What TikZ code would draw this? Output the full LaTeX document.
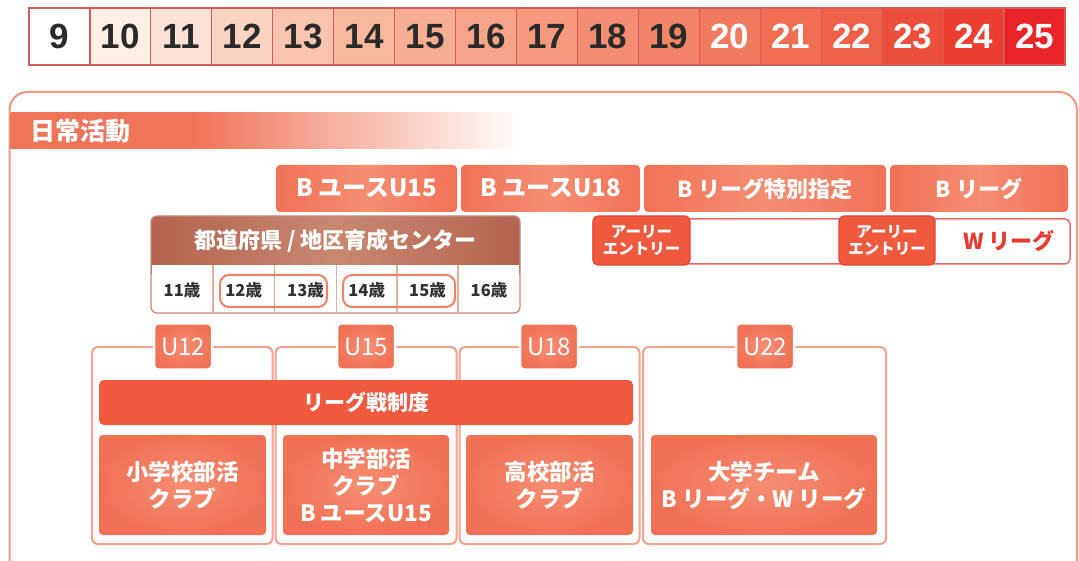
\documentclass[tikz,border=0pt]{standalone}
\usepackage{fontspec}
\setmainfont{Liberation Sans}
\newfontfamily\jp{Noto Sans CJK JP}
\definecolor{c9}{HTML}{FFFFFF}
\definecolor{c10}{HTML}{FDEEE6}
\definecolor{c11}{HTML}{FCE2D6}
\definecolor{c12}{HTML}{FBD3C2}
\definecolor{c13}{HTML}{F9C5B0}
\definecolor{c14}{HTML}{F8B89E}
\definecolor{c15}{HTML}{F7AD92}
\definecolor{c16}{HTML}{F6A488}
\definecolor{c17}{HTML}{F5987C}
\definecolor{c18}{HTML}{F38E72}
\definecolor{c19}{HTML}{F28467}
\definecolor{c20}{HTML}{F07A5E}
\definecolor{c21}{HTML}{EF6E52}
\definecolor{c22}{HTML}{EE6047}
\definecolor{c23}{HTML}{EC503C}
\definecolor{c24}{HTML}{EB3F30}
\definecolor{c25}{HTML}{E82428}
\definecolor{darktxt}{HTML}{2A2A2A}
\definecolor{cellbord}{HTML}{D65A55}
\definecolor{frameC}{HTML}{F4A28E}
\definecolor{mainframe}{HTML}{F29884}
\definecolor{hdr}{HTML}{F07458}
\definecolor{tbA}{HTML}{F07256}
\definecolor{tbB}{HTML}{F58E72}
\definecolor{eered}{HTML}{EF5A3E}
\definecolor{eebord}{HTML}{E8413A}
\definecolor{eerow}{HTML}{EE6A66}
\definecolor{wtxt}{HTML}{E63A30}
\definecolor{brA}{HTML}{B4634F}
\definecolor{brB}{HTML}{C98870}
\definecolor{brbord}{HTML}{C98A78}
\definecolor{brdiv}{HTML}{DDB0A2}
\definecolor{oval}{HTML}{F08262}
\definecolor{league}{HTML}{EF5A3E}
\definecolor{agetxt}{HTML}{333333}
\pgfdeclarehorizontalshading{hdrshade}{100bp}{color(0bp)=(hdr); color(25bp)=(hdr); color(43bp)=(hdr); color(75bp)=(white); color(100bp)=(white)}
\tikzset{
  agecell/.style={draw=cellbord, line width=1.2pt, minimum width=60.94pt, minimum height=57pt,
    inner sep=0pt, font=\bfseries\fontsize{35}{35}\selectfont},
  topbox/.style={rounded corners=4pt, left color=tbA, right color=tbA, middle color=tbB,
    text=white, inner sep=0pt, minimum height=47pt, font=\jp\bfseries\fontsize{22}{22}\selectfont},
  eebox/.style={rounded corners=5pt, fill=eered, draw=eebord, line width=1.2pt, text=white,
    inner sep=0pt, minimum width=97pt, minimum height=49pt, align=center,
    font=\jp\bfseries\fontsize{15.5}{17}\selectfont},
  agelbl/.style={text=agetxt, inner sep=0pt, font=\jp\bfseries\fontsize{16.5}{16.5}\selectfont},
  ovalbox/.style={draw=oval, line width=2pt, rounded corners=9pt},
  uframe/.style={draw=frameC, line width=2pt, rounded corners=6pt, inner sep=0pt},
  utab/.style={rounded corners=4pt, inner color=tbB, outer color=tbA, draw=white, line width=2.5pt,
    text=white, inner sep=0pt, minimum width=58pt, minimum height=46pt,
    font=\jp\fontsize{24}{24}\selectfont},
  innerbox/.style={rounded corners=4pt, inner color=tbB, outer color=tbA, text=white,
    inner sep=0pt, minimum height=100pt, align=center,
    font=\jp\bfseries\fontsize{22.5}{27}\selectfont},
}
\begin{document}
\begin{tikzpicture}[x=1pt,y=-1pt]
\useasboundingbox (0,0) rectangle (1079,561);
\clip (0,0) rectangle (1079,561);
\fill[white] (0,0) rectangle (1079,561);
% age bar
\foreach \a/\t in {9/darktxt,10/darktxt,11/darktxt,12/darktxt,13/darktxt,14/darktxt,15/darktxt,16/darktxt,17/darktxt,18/darktxt,19/darktxt,20/white,21/white,22/white,23/white,24/white,25/white}{
  \pgfmathsetmacro{\cx}{29+60.94*(\a-9)+30.47}
  \node[agecell, fill=c\a, text=\t] (age\a) at (\cx,36.5) {\a};
}
% main frame
\draw[mainframe, line width=2pt, rounded corners=18pt] (9.5,92) rectangle (1077,600);
\shade[shading=hdrshade] (10.5,113) rectangle (522,149);
\node[anchor=west, text=white, inner sep=0pt, font=\jp\bfseries\fontsize{25}{25}\selectfont] (daily) at (30,131) {日常活動};
% top boxes
\node[topbox, minimum width=181pt, font=\jp\bfseries\fontsize{24}{24}\selectfont] (bu15) at (366.5,188.5) {B ユースU15};
\node[topbox, minimum width=179pt, font=\jp\bfseries\fontsize{24}{24}\selectfont] (bu18) at (550.5,188.5) {B ユースU18};
\node[topbox, minimum width=242pt] (bsp) at (765,188.5) {B リーグ特別指定};
\node[topbox, minimum width=178pt] (bl) at (979,188.5) {B リーグ};
% early entry row
\node[draw=eerow, line width=1.5pt, fill=white, rounded corners=5pt, minimum width=477pt, minimum height=45pt, inner sep=0pt] (eerow) at (831.5,241.5) {};
\node[eebox] (ee1) at (641.5,240.5) {アーリー\\エントリー};
\node[eebox, minimum width=96pt] (ee2) at (887,240.5) {アーリー\\エントリー};
\node[text=wtxt, inner sep=0pt, font=\jp\bfseries\fontsize{22}{22}\selectfont] (wl) at (1009,241) {W リーグ};
% prefecture box
\fill[white, rounded corners=6pt] (151,216) rectangle (520,313);
\shade[left color=brA, right color=brA, middle color=brB, rounded corners=6pt] (151,216) rectangle (520,278);
\fill[white] (151.8,265) rectangle (519.2,312);
\foreach \xx in {213,274.5,336.5,397,458}{
  \draw[brdiv, line width=1.2pt] (\xx,265) -- (\xx,312.5);
}
\draw[brbord, line width=1.3pt, rounded corners=6pt] (151,216) rectangle (520,313);
\node[text=white, inner sep=0pt, font=\jp\bfseries\fontsize{22}{22}\selectfont] (pref) at (335.5,241) {都道府県 / 地区育成センター};
\draw[ovalbox] (220,275) rectangle (327,307);
\draw[ovalbox] (343,275) rectangle (455,307);
\node[agelbl] (a11) at (182,290) {11歳};
\node[agelbl] (a12) at (243.7,290) {12歳};
\node[agelbl] (a13) at (305.5,290) {13歳};
\node[agelbl] (a14) at (366.7,290) {14歳};
\node[agelbl] (a15) at (427.5,290) {15歳};
\node[agelbl] (a16) at (489,290) {16歳};
% lower frames
\node[uframe, minimum width=180.5pt, minimum height=197pt] (fU12) at (182.25,445.5) {};
\node[uframe, minimum width=181pt, minimum height=197pt] (fU15) at (366,445.5) {};
\node[uframe, minimum width=180pt, minimum height=197pt] (fU18) at (549.5,445.5) {};
\node[uframe, minimum width=243pt, minimum height=197pt] (fU22) at (764.5,445.5) {};
\node[utab] (tU12) at (183,346.5) {U12};
\node[utab] (tU15) at (366,346.5) {U15};
\node[utab] (tU18) at (549,346.5) {U18};
\node[utab] (tU22) at (765,346.5) {U22};
\node[rounded corners=5pt, fill=league, text=white, inner sep=0pt, minimum width=534pt, minimum height=45pt,
  font=\jp\bfseries\fontsize{21}{21}\selectfont] (lg) at (366,402.5) {リーグ戦制度};
\node[innerbox, minimum width=167pt] (sho) at (182.5,485) {小学校部活\\クラブ};
\node[innerbox, minimum width=166pt] (chu) at (366,485) {中学部活\\クラブ\\B ユースU15};
\node[innerbox, minimum width=167pt] (kou) at (549.5,485) {高校部活\\クラブ};
\node[innerbox, minimum width=226pt] (dai) at (764,485) {大学チーム\\B リーグ・W リーグ};
\end{tikzpicture}
\end{document}
